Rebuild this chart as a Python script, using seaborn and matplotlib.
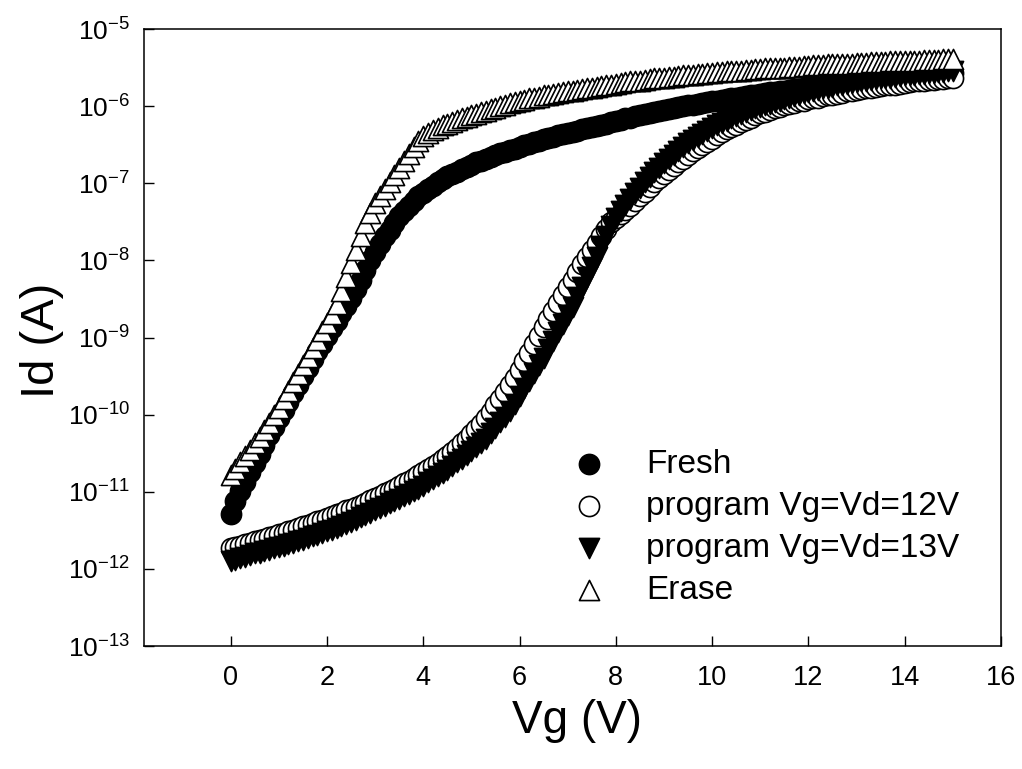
import numpy as np
import pandas as pd
import matplotlib
matplotlib.use("Agg")
import matplotlib.pyplot as plt
import seaborn as sns
from matplotlib.ticker import FixedLocator, FuncFormatter, NullLocator

# ---------------- data (log10 of Id in A, Vg sweep 0..15 V, 0.1 V step) ----------------
vg = np.linspace(0.0, 15.0, 151)

fresh_log = [
    -11.29, -11.12, -10.99, -10.87, -10.75, -10.63, -10.51, -10.39, -10.27, -10.16,
    -10.05, -9.94, -9.83, -9.72, -9.61, -9.50, -9.39, -9.28, -9.18, -9.08,
    -8.98, -8.88, -8.78, -8.68, -8.59, -8.49, -8.37, -8.25, -8.12, -8.00,
    -7.89, -7.79, -7.69, -7.60, -7.51, -7.43, -7.36, -7.29, -7.23, -7.17,
    -7.12, -7.07, -7.03, -6.99, -6.95, -6.91, -6.88, -6.85, -6.82, -6.79,
    -6.76, -6.73, -6.71, -6.68, -6.66, -6.63, -6.61, -6.59, -6.57, -6.55,
    -6.53, -6.51, -6.49, -6.47, -6.45, -6.43, -6.41, -6.40, -6.38, -6.36,
    -6.35, -6.33, -6.32, -6.30, -6.29, -6.27, -6.26, -6.24, -6.23, -6.21,
    -6.19, -6.18, -6.16, -6.15, -6.13, -6.12, -6.10, -6.09, -6.08, -6.06,
    -6.05, -6.04, -6.02, -6.01, -6.00, -5.99, -5.98, -5.97, -5.96, -5.95,
    -5.94, -5.93, -5.92, -5.91, -5.90, -5.89, -5.88, -5.87, -5.86, -5.85,
    -5.84, -5.83, -5.82, -5.82, -5.81, -5.80, -5.79, -5.78, -5.78, -5.77,
    -5.76, -5.75, -5.75, -5.74, -5.73, -5.72, -5.72, -5.71, -5.70, -5.70,
    -5.69, -5.68, -5.68, -5.67, -5.66, -5.66, -5.65, -5.65, -5.64, -5.63,
    -5.63, -5.62, -5.62, -5.61, -5.60, -5.60, -5.59, -5.59, -5.58, -5.58,
    -5.57,
]

prog12_log = [
    -11.73, -11.71, -11.70, -11.68, -11.66, -11.64, -11.62, -11.61, -11.59, -11.57,
    -11.55, -11.53, -11.51, -11.49, -11.47, -11.45, -11.43, -11.40, -11.38, -11.36,
    -11.34, -11.32, -11.29, -11.27, -11.24, -11.22, -11.20, -11.17, -11.14, -11.11,
    -11.08, -11.05, -11.02, -10.99, -10.96, -10.93, -10.89, -10.86, -10.82, -10.78,
    -10.75, -10.71, -10.67, -10.63, -10.58, -10.53, -10.48, -10.43, -10.37, -10.31,
    -10.25, -10.19, -10.12, -10.04, -9.96, -9.88, -9.80, -9.71, -9.62, -9.52,
    -9.42, -9.31, -9.20, -9.09, -8.98, -8.87, -8.76, -8.65, -8.55, -8.45,
    -8.35, -8.25, -8.15, -8.05, -7.95, -7.86, -7.77, -7.68, -7.59, -7.50,
    -7.45, -7.40, -7.35, -7.29, -7.23, -7.17, -7.11, -7.05, -6.99, -6.93,
    -6.88, -6.83, -6.78, -6.73, -6.68, -6.63, -6.58, -6.54, -6.50, -6.46,
    -6.42, -6.38, -6.34, -6.30, -6.27, -6.24, -6.21, -6.18, -6.15, -6.12,
    -6.09, -6.07, -6.05, -6.03, -6.01, -5.99, -5.97, -5.96, -5.94, -5.93,
    -5.91, -5.90, -5.89, -5.87, -5.86, -5.85, -5.84, -5.83, -5.81, -5.80,
    -5.79, -5.78, -5.77, -5.76, -5.75, -5.74, -5.73, -5.73, -5.72, -5.71,
    -5.70, -5.69, -5.68, -5.68, -5.67, -5.66, -5.66, -5.65, -5.65, -5.64,
    -5.64,
]

prog13_log = [
    -11.90, -11.88, -11.86, -11.84, -11.82, -11.80, -11.79, -11.77, -11.75, -11.73,
    -11.71, -11.70, -11.68, -11.66, -11.64, -11.62, -11.60, -11.58, -11.56, -11.54,
    -11.51, -11.49, -11.47, -11.44, -11.42, -11.39, -11.36, -11.33, -11.30, -11.27,
    -11.24, -11.21, -11.18, -11.15, -11.12, -11.09, -11.06, -11.03, -10.99, -10.96,
    -10.92, -10.88, -10.84, -10.80, -10.76, -10.72, -10.67, -10.62, -10.57, -10.52,
    -10.47, -10.42, -10.37, -10.31, -10.24, -10.17, -10.10, -10.03, -9.95, -9.86,
    -9.76, -9.66, -9.56, -9.46, -9.36, -9.26, -9.15, -9.04, -8.93, -8.82,
    -8.71, -8.60, -8.47, -8.34, -8.21, -8.08, -7.95, -7.82, -7.69, -7.56,
    -7.45, -7.36, -7.28, -7.20, -7.13, -7.06, -6.99, -6.92, -6.86, -6.80,
    -6.74, -6.68, -6.63, -6.58, -6.53, -6.48, -6.44, -6.40, -6.36, -6.32,
    -6.28, -6.25, -6.22, -6.19, -6.16, -6.13, -6.10, -6.07, -6.05, -6.03,
    -6.01, -5.99, -5.97, -5.95, -5.93, -5.91, -5.89, -5.87, -5.85, -5.83,
    -5.82, -5.80, -5.79, -5.77, -5.76, -5.75, -5.73, -5.72, -5.71, -5.70,
    -5.69, -5.68, -5.67, -5.66, -5.65, -5.64, -5.63, -5.63, -5.62, -5.61,
    -5.60, -5.60, -5.59, -5.58, -5.58, -5.57, -5.57, -5.56, -5.56, -5.55,
    -5.55,
]

erase_log = [
    -10.78, -10.70, -10.62, -10.54, -10.46, -10.37, -10.29, -10.20, -10.11, -10.01,
    -9.91, -9.80, -9.69, -9.58, -9.47, -9.36, -9.25, -9.14, -9.03, -8.92,
    -8.81, -8.69, -8.56, -8.40, -8.22, -8.04, -7.86, -7.69, -7.52, -7.38,
    -7.26, -7.16, -7.07, -6.98, -6.89, -6.80, -6.71, -6.62, -6.53, -6.45,
    -6.39, -6.35, -6.31, -6.28, -6.25, -6.23, -6.21, -6.18, -6.16, -6.14,
    -6.12, -6.10, -6.08, -6.06, -6.04, -6.02, -6.00, -5.98, -5.96, -5.95,
    -5.93, -5.92, -5.90, -5.89, -5.88, -5.86, -5.85, -5.84, -5.83, -5.82,
    -5.81, -5.80, -5.79, -5.78, -5.77, -5.76, -5.75, -5.74, -5.73, -5.72,
    -5.71, -5.70, -5.69, -5.68, -5.68, -5.67, -5.66, -5.65, -5.64, -5.64,
    -5.63, -5.62, -5.62, -5.61, -5.60, -5.60, -5.59, -5.58, -5.58, -5.57,
    -5.57, -5.56, -5.56, -5.55, -5.55, -5.54, -5.54, -5.53, -5.53, -5.52,
    -5.52, -5.51, -5.51, -5.51, -5.50, -5.50, -5.49, -5.49, -5.49, -5.48,
    -5.48, -5.47, -5.47, -5.47, -5.46, -5.46, -5.46, -5.45, -5.45, -5.45,
    -5.44, -5.44, -5.44, -5.43, -5.43, -5.43, -5.43, -5.42, -5.42, -5.42,
    -5.41, -5.41, -5.41, -5.41, -5.40, -5.40, -5.40, -5.40, -5.39, -5.39,
    -5.39,
]

series_names = ["Fresh", "program Vg=Vd=12V", "program Vg=Vd=13V", "Erase"]
series_logs = [fresh_log, prog12_log, prog13_log, erase_log]
series_markers = ["o", "o", "v", "^"]
series_faces = ["black", "white", "black", "white"]

x_ticks = [0, 2, 4, 6, 8, 10, 12, 14, 16]
y_exponents = [-13, -12, -11, -10, -9, -8, -7, -6, -5]

# ---------------- style ----------------
sns.set_style("white")
plt.rcParams["font.family"] = ["Liberation Sans", "DejaVu Sans"]
plt.rcParams["mathtext.fontset"] = "custom"
plt.rcParams["mathtext.rm"] = "Liberation Sans"
plt.rcParams["mathtext.it"] = "Liberation Sans:italic"
plt.rcParams["mathtext.bf"] = "Liberation Sans:bold"
plt.rcParams["text.color"] = "black"
plt.rcParams["axes.labelcolor"] = "black"
plt.rcParams["xtick.color"] = "black"
plt.rcParams["ytick.color"] = "black"
plt.rcParams["legend.labelcolor"] = "black"

fig = plt.figure(figsize=(10.22, 7.69), dpi=100)
ax = fig.add_axes([144 / 1022, 1 - 646 / 769, (1001 - 144) / 1022, (646 - 29) / 769])

handles = []
for name, logs, mk, fc in zip(series_names, series_logs, series_markers, series_faces):
    df = pd.DataFrame({"Vg": vg, "Id": np.power(10.0, np.array(logs))})
    before = len(ax.collections)
    sns.scatterplot(data=df, x="Vg", y="Id", marker=mk, s=210, color=fc,
                    edgecolor="black", linewidth=1.2, ax=ax, legend=False, zorder=3)
    handles.append(ax.collections[before])

ax.set_yscale("log")
ax.set_xlim(-1.8, 16)
ax.set_ylim(1e-13, 1e-5)

ax.xaxis.set_major_locator(FixedLocator(x_ticks))
ax.xaxis.set_minor_locator(NullLocator())
ax.yaxis.set_major_locator(FixedLocator([10.0 ** e for e in y_exponents]))
ax.yaxis.set_minor_locator(NullLocator())
ax.yaxis.set_major_formatter(FuncFormatter(lambda v, p: r"$\mathregular{10^{%d}}$" % int(round(np.log10(v)))))
ax.xaxis.set_major_formatter(FuncFormatter(lambda v, p: "%d" % v))

ax.tick_params(axis="x", direction="in", length=7, width=1.0, labelsize=19.5, pad=14,
               bottom=True, top=False, colors="black", labelcolor="black")
ax.tick_params(axis="y", direction="in", length=7, width=1.0, labelsize=19, pad=10,
               left=True, right=False, colors="black", labelcolor="black")
for sp in ax.spines.values():
    sp.set_visible(True)
    sp.set_color("black")
    sp.set_linewidth(1.1)

ax.set_xlabel("Vg (V)", fontsize=33, color="black")
ax.set_ylabel("Id (A)", fontsize=34, color="black")
ax.xaxis.set_label_coords(0.505, -0.086)
ax.yaxis.set_label_coords(-0.093, 0.496)

leg = ax.legend(handles, series_names, loc="upper left", bbox_to_anchor=(0.50, 0.319),
                frameon=False, fontsize=24, scatterpoints=1, handlelength=1.0,
                handletextpad=1.2, labelspacing=0.33, borderpad=0.0, borderaxespad=0.0,
                labelcolor="black")

fig.savefig("out.png", dpi=100, facecolor="white")
